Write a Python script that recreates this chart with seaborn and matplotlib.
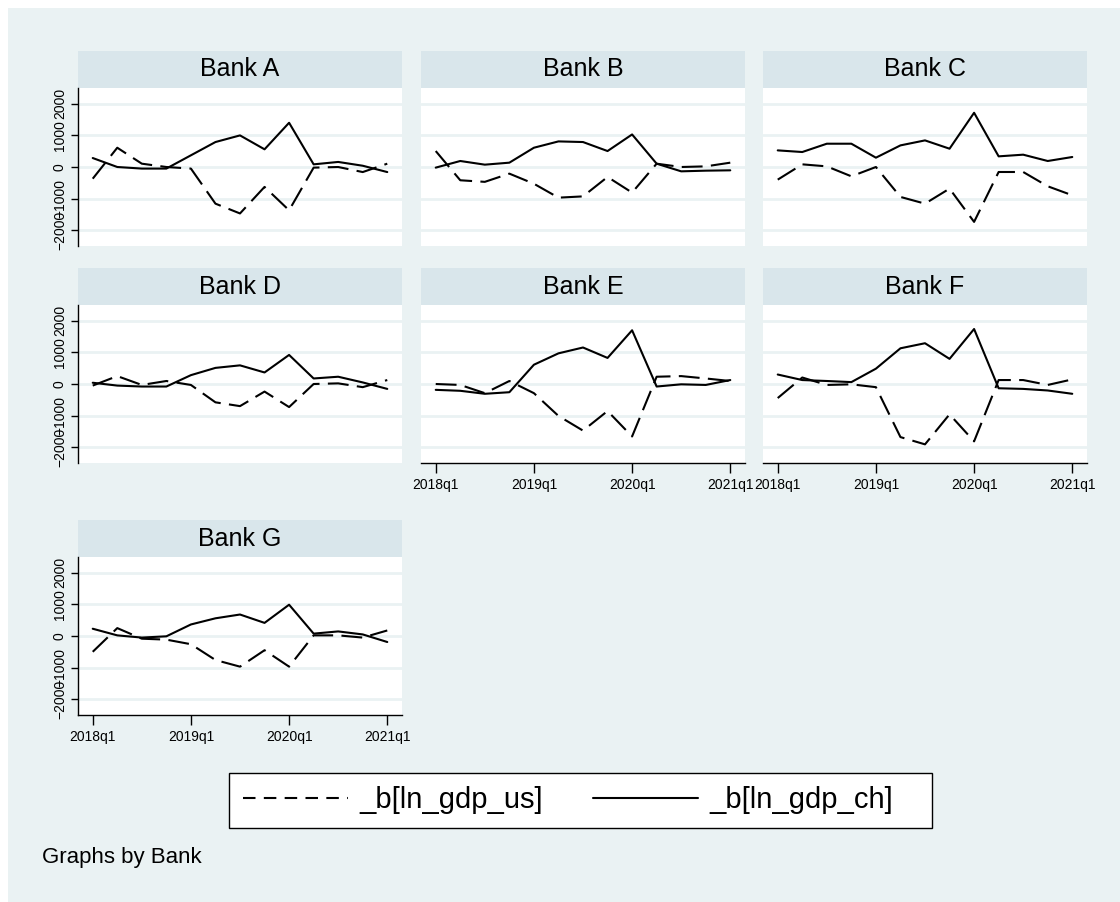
import numpy as np
import pandas as pd
import matplotlib
matplotlib.use("Agg")
import matplotlib.pyplot as plt
import seaborn as sns
from matplotlib.patches import Rectangle
from matplotlib.lines import Line2D

# ---------------- data ----------------
banks = ["Bank A", "Bank B", "Bank C", "Bank D", "Bank E", "Bank F", "Bank G"]
quarters = ["2018q1", "2018q2", "2018q3", "2018q4", "2019q1", "2019q2", "2019q3",
            "2019q4", "2020q1", "2020q2", "2020q3", "2020q4", "2021q1"]
tick_labels = ["2018q1", "2019q1", "2020q1", "2021q1"]
series_us = "_b[ln_gdp_us]"
series_ch = "_b[ln_gdp_ch]"

A_us = [-370, 610, 105, 0, -50, -1160, -1470, -630, -1370, -20, 0, -160, 105]
A_ch = [284, 0, -50, -50, 370, 790, 1000, 560, 1400, 84, 160, 40, -160]
B_us = [505, -420, -470, -210, -530, -970, -930, -315, -810, 105, 0, 20, 137]
B_ch = [-20, 190, 74, 137, 610, 810, 790, 505, 1030, 105, -137, -116, -105]
C_us = [-400, 84, 20, -295, 0, -947, -1160, -684, -1737, -158, -158, -610, -895]
C_ch = [526, 474, 737, 737, 295, 684, 842, 579, 1716, 337, 390, 190, 316]
D_us = [-50, 250, -30, 95, -30, -580, -700, -240, -730, 0, 20, -100, 125]
D_ch = [40, -50, -80, -80, 280, 510, 590, 365, 920, 175, 230, 50, -155]
E_us = [0, -30, -290, 95, -290, -1010, -1475, -855, -1660, 230, 250, 175, 95]
E_ch = [-185, -215, -310, -260, 610, 970, 1155, 825, 1700, -80, -10, -30, 125]
F_us = [-445, 205, -30, -10, -100, -1680, -1910, -960, -1815, 125, 125, -30, 145]
F_ch = [300, 125, 95, 60, 485, 1130, 1290, 795, 1740, -135, -155, -205, -310]
G_us = [-500, 250, -85, -115, -260, -760, -970, -450, -970, 20, 20, -50, 175]
G_ch = [230, 20, -50, -10, 365, 560, 680, 415, 990, 75, 145, 50, -190]

us_values = [A_us, B_us, C_us, D_us, E_us, F_us, G_us]
ch_values = [A_ch, B_ch, C_ch, D_ch, E_ch, F_ch, G_ch]

rows = []
for b, us, ch in zip(banks, us_values, ch_values):
    for i, q in enumerate(quarters):
        rows.append((b, i, q, series_us, us[i]))
        rows.append((b, i, q, series_ch, ch[i]))
df = pd.DataFrame(rows, columns=["Bank", "t", "quarter", "series", "value"])

# ---------------- style ----------------
sns.set_style("white")
plt.rcParams["font.family"] = ["Liberation Sans", "DejaVu Sans"]
plt.rcParams["text.color"] = "black"
plt.rcParams["xtick.color"] = "black"
plt.rcParams["ytick.color"] = "black"
plt.rcParams["axes.labelcolor"] = "black"

W, H = 1120, 902
BG = "#EAF2F3"
HEAD = "#D9E6EB"
fig = plt.figure(figsize=(W / 100, H / 100), dpi=100)
fig.patch.set_facecolor("white")
fig.patches.append(Rectangle((8 / W, 0), 1 - 8 / W, 1 - 8 / H, transform=fig.transFigure,
                             facecolor=BG, edgecolor="none", zorder=-10))

col_x = [78, 421, 763]
row_top = [88, 305, 557]
pw, ph, hh = 324, 158, 37
layout = [(0, 0), (0, 1), (0, 2), (1, 0), (1, 1), (1, 2), (2, 0)]
bottom_axis = {"Bank E", "Bank F", "Bank G"}

for b, (r, c) in zip(banks, layout):
    ax = fig.add_axes([col_x[c] / W, 1 - (row_top[r] + ph) / H, pw / W, ph / H])
    ax.set_facecolor("white")
    sub = df[df["Bank"] == b]
    sns.lineplot(data=sub, x="t", y="value", style="series",
                 style_order=[series_us, series_ch],
                 dashes={series_us: (10, 4), series_ch: ""},
                 color="black", linewidth=1.5, errorbar=None, legend=False, ax=ax)
    ax.set_xlim(-0.6, 12.6)
    ax.set_ylim(-2500, 2500)
    ax.set_yticks([-2000, -1000, 0, 1000, 2000])
    ax.set_xticks([0, 4, 8, 12])
    ax.set_xticklabels(tick_labels)
    ax.grid(axis="y", color=BG, linewidth=2)
    ax.grid(axis="x", visible=False)
    ax.set_axisbelow(True)
    ax.set_xlabel("")
    ax.set_ylabel("")
    for s in ax.spines.values():
        s.set_visible(False)
    if c == 0:
        ax.spines["left"].set_visible(True)
        ax.spines["left"].set_color("black")
        ax.spines["left"].set_linewidth(1)
        ax.tick_params(axis="y", left=True, labelleft=True, length=5, width=1,
                       color="black", labelsize=10, pad=3)
        for lab in ax.get_yticklabels():
            lab.set_rotation(90)
            lab.set_va("center")
    else:
        ax.tick_params(axis="y", left=False, labelleft=False)
    if b in bottom_axis:
        ax.spines["bottom"].set_visible(True)
        ax.spines["bottom"].set_color("black")
        ax.spines["bottom"].set_linewidth(1)
        ax.tick_params(axis="x", bottom=True, labelbottom=True, length=7, width=1,
                       color="black", labelsize=10, pad=4)
    else:
        ax.tick_params(axis="x", bottom=False, labelbottom=False)
    ax.add_patch(Rectangle((0, 1), 1, hh / ph, transform=ax.transAxes,
                           facecolor=HEAD, edgecolor="none", clip_on=False))
    ax.text(0.5, 1 + hh / ph / 2, b, transform=ax.transAxes, ha="center", va="center",
            fontsize=18, color="black")

# legend box (Stata-style) and entries
fig.patches.append(Rectangle((229 / W, 1 - 828 / H), 703 / W, 55 / H,
                             transform=fig.transFigure, facecolor="white",
                             edgecolor="black", linewidth=1, zorder=1))
handles = [Line2D([], [], color="black", lw=1.5, linestyle=(0, (6, 4))),
           Line2D([], [], color="black", lw=1.5)]
leg = fig.legend(handles, [series_us, series_ch], ncol=2, loc="center left",
                 bbox_to_anchor=(243 / W, 1 - 800.5 / H),
                 fontsize=21, frameon=False, handlelength=3.6, handletextpad=0.4,
                 columnspacing=1.7, borderaxespad=0, borderpad=0)
leg.set_zorder(2)

fig.text(42 / W, 1 - 858 / H, "Graphs by Bank", ha="left", va="center", fontsize=16,
         color="black")

fig.savefig("out.png", dpi=100, facecolor=fig.get_facecolor())
